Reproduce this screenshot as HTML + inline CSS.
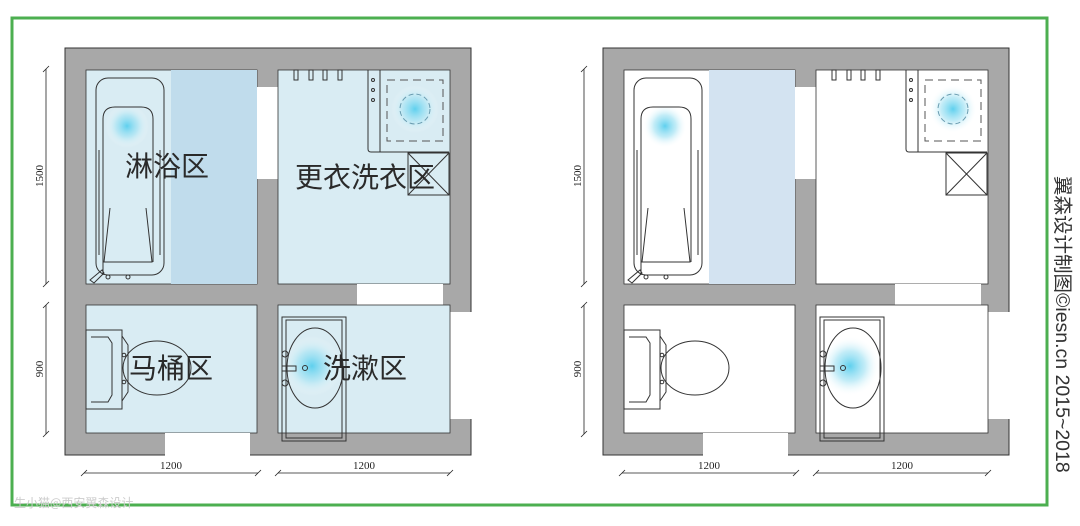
<!DOCTYPE html>
<html><head><meta charset="utf-8"><style>
html,body{margin:0;padding:0;background:#fff;width:1080px;height:526px;overflow:hidden}
svg{display:block}
.lab{font-family:"Liberation Sans","Noto Sans CJK SC",sans-serif;font-size:28px;fill:#2a2a2a}
.dim{font-family:"Liberation Serif",serif;font-size:11px;fill:#222}
</style></head><body>
<svg width="1080" height="526" viewBox="0 0 1080 526" xmlns="http://www.w3.org/2000/svg">
<defs>
<radialGradient id="glow"><stop offset="0" stop-color="#5fd0ee"/><stop offset="0.5" stop-color="#a8e4f4" stop-opacity="0.7"/><stop offset="1" stop-color="#ffffff" stop-opacity="0"/></radialGradient>
<g id="fix" fill="none" stroke="#333" stroke-width="1">
 <rect x="96" y="78" width="68" height="197" rx="12"/>
 <path d="M103 275 L103 119 Q103 107 115 107 L141 107 Q153 107 153 119 L153 262"/>
 <path d="M110 208 L104 262 L152 262 L146 208"/>
 <line x1="99" y1="150" x2="99" y2="255"/><line x1="160" y1="150" x2="160" y2="255"/>
 <path d="M90 280 L102 270 L104 273 L94 283 Z"/>
 <circle cx="108" cy="277" r="2"/><circle cx="128" cy="277" r="2"/>
 <rect x="294" y="70" width="4" height="10"/><rect x="309" y="70" width="4" height="10"/><rect x="323" y="70" width="4" height="10"/><rect x="338" y="70" width="4" height="10"/>
 <path d="M368 70 L368 149 Q368 152 371 152 L449 152"/>
 <line x1="380" y1="70" x2="380" y2="152"/>
 <rect x="387" y="80" width="56" height="61" stroke-dasharray="8,5" stroke="#555"/>
 <circle cx="415" cy="109" r="15" stroke-dasharray="5,3" stroke="#6a9cb0"/>
 <rect x="408" y="153" width="41" height="42"/>
 <line x1="408" y1="153" x2="449" y2="195"/><line x1="449" y1="153" x2="408" y2="195"/>
 <circle cx="373" cy="80" r="1.5"/><circle cx="373" cy="90" r="1.5"/><circle cx="373" cy="100" r="1.5"/>
 <rect x="86" y="330" width="36" height="79"/>
 <path d="M91 337 L108 337 L112 343 L112 395 L108 402 L91 402"/>
 <path d="M122 336 L128 345 L128 392 L122 401"/>
 <ellipse cx="157" cy="368" rx="34" ry="27"/>
 <circle cx="124" cy="355" r="1.8"/><circle cx="124" cy="382" r="1.8"/>
 <rect x="282" y="317" width="64" height="124"/>
 <rect x="286" y="320" width="56" height="118"/>
 <ellipse cx="315" cy="368" rx="28" ry="40"/>
 <circle cx="285" cy="354" r="3"/><circle cx="285" cy="383" r="3"/>
 <rect x="282" y="366" width="14" height="5"/><circle cx="305" cy="368" r="2.5"/>
</g>
</defs>

<rect x="12" y="18" width="1035" height="487" fill="none" stroke="#4caf50" stroke-width="3"/>

<g>
 <rect x="65" y="48" width="406" height="407" fill="#a8a8a8" stroke="#333" stroke-width="1"/>
 <rect x="86" y="70" width="171" height="214" fill="#d9ecf3" stroke="#333" stroke-width="0.8"/>
 <rect x="171" y="70" width="86" height="214" fill="#c0dcec"/>
 <rect x="257" y="87" width="21" height="92" fill="#fff"/>
 <rect x="278" y="70" width="172" height="214" fill="#d9ecf3" stroke="#333" stroke-width="0.8"/>
 <rect x="357" y="284" width="86" height="21" fill="#fff"/>
 <rect x="450" y="312" width="22" height="107" fill="#fff"/>
 <rect x="86" y="305" width="171" height="128" fill="#d9ecf3" stroke="#333" stroke-width="0.8"/>
 <rect x="278" y="305" width="172" height="128" fill="#d9ecf3" stroke="#333" stroke-width="0.8"/>
 <rect x="165" y="433" width="85" height="23" fill="#fff"/>
 <circle cx="127" cy="126" r="22" fill="url(#glow)"/>
 <circle cx="415" cy="109" r="24" fill="url(#glow)"/>
 <circle cx="312" cy="366" r="30" fill="url(#glow)"/>
 <use href="#fix"/>
 <text class="lab" x="167" y="176" text-anchor="middle">淋浴区</text>
 <text class="lab" x="365" y="187" text-anchor="middle">更衣洗衣区</text>
 <text class="lab" x="171" y="378" text-anchor="middle">马桶区</text>
 <text class="lab" x="365" y="378" text-anchor="middle">洗漱区</text>
</g>

<g transform="translate(538,0)">
 <rect x="65" y="48" width="406" height="407" fill="#a8a8a8" stroke="#333" stroke-width="1"/>
 <rect x="86" y="70" width="171" height="214" fill="#fff" stroke="#333" stroke-width="0.8"/>
 <rect x="171" y="70" width="86" height="214" fill="#d3e3f1"/>
 <rect x="257" y="87" width="21" height="92" fill="#fff"/>
 <rect x="278" y="70" width="172" height="214" fill="#fff" stroke="#333" stroke-width="0.8"/>
 <rect x="357" y="284" width="86" height="21" fill="#fff"/>
 <rect x="450" y="312" width="22" height="107" fill="#fff"/>
 <rect x="86" y="305" width="171" height="128" fill="#fff" stroke="#333" stroke-width="0.8"/>
 <rect x="278" y="305" width="172" height="128" fill="#fff" stroke="#333" stroke-width="0.8"/>
 <rect x="165" y="433" width="85" height="23" fill="#fff"/>
 <circle cx="127" cy="126" r="22" fill="url(#glow)"/>
 <circle cx="415" cy="109" r="24" fill="url(#glow)"/>
 <circle cx="312" cy="366" r="30" fill="url(#glow)"/>
 <use href="#fix"/>
</g>

<g stroke="#222" stroke-width="0.8" fill="none">
 <line x1="46" y1="69" x2="46" y2="284"/><line x1="46" y1="305" x2="46" y2="434"/>
 <line x1="43" y1="72" x2="49" y2="66"/><line x1="43" y1="287" x2="49" y2="281"/>
 <line x1="43" y1="308" x2="49" y2="302"/><line x1="43" y1="437" x2="49" y2="431"/>
 <line x1="84" y1="473" x2="258" y2="473"/><line x1="278" y1="473" x2="450" y2="473"/>
 <line x1="81" y1="476" x2="87" y2="470"/><line x1="255" y1="476" x2="261" y2="470"/>
 <line x1="275" y1="476" x2="281" y2="470"/><line x1="447" y1="476" x2="453" y2="470"/>
 <g transform="translate(538,0)">
 <line x1="46" y1="69" x2="46" y2="284"/><line x1="46" y1="305" x2="46" y2="434"/>
 <line x1="43" y1="72" x2="49" y2="66"/><line x1="43" y1="287" x2="49" y2="281"/>
 <line x1="43" y1="308" x2="49" y2="302"/><line x1="43" y1="437" x2="49" y2="431"/>
 <line x1="84" y1="473" x2="258" y2="473"/><line x1="278" y1="473" x2="450" y2="473"/>
 <line x1="81" y1="476" x2="87" y2="470"/><line x1="255" y1="476" x2="261" y2="470"/>
 <line x1="275" y1="476" x2="281" y2="470"/><line x1="447" y1="476" x2="453" y2="470"/>
 </g>
</g>
<g class="dim">
 <text x="171" y="469" text-anchor="middle" class="dim">1200</text>
 <text x="364" y="469" text-anchor="middle" class="dim">1200</text>
 <text x="709" y="469" text-anchor="middle" class="dim">1200</text>
 <text x="902" y="469" text-anchor="middle" class="dim">1200</text>
 <text class="dim" transform="translate(43,176) rotate(-90)" text-anchor="middle">1500</text>
 <text class="dim" transform="translate(43,369) rotate(-90)" text-anchor="middle">900</text>
 <text class="dim" transform="translate(581,176) rotate(-90)" text-anchor="middle">1500</text>
 <text class="dim" transform="translate(581,369) rotate(-90)" text-anchor="middle">900</text>
</g>

<text transform="translate(1056,176) rotate(90)" font-family="Liberation Sans,'Noto Sans CJK SC',sans-serif" font-size="19.5" fill="#333">翼森设计制图©iesn.cn 2015~2018</text>
<text x="14" y="507" font-family="'Noto Sans CJK SC',sans-serif" font-size="12" fill="#ccc">生小猫@西安翼森设计</text>
</svg>
</body></html>
